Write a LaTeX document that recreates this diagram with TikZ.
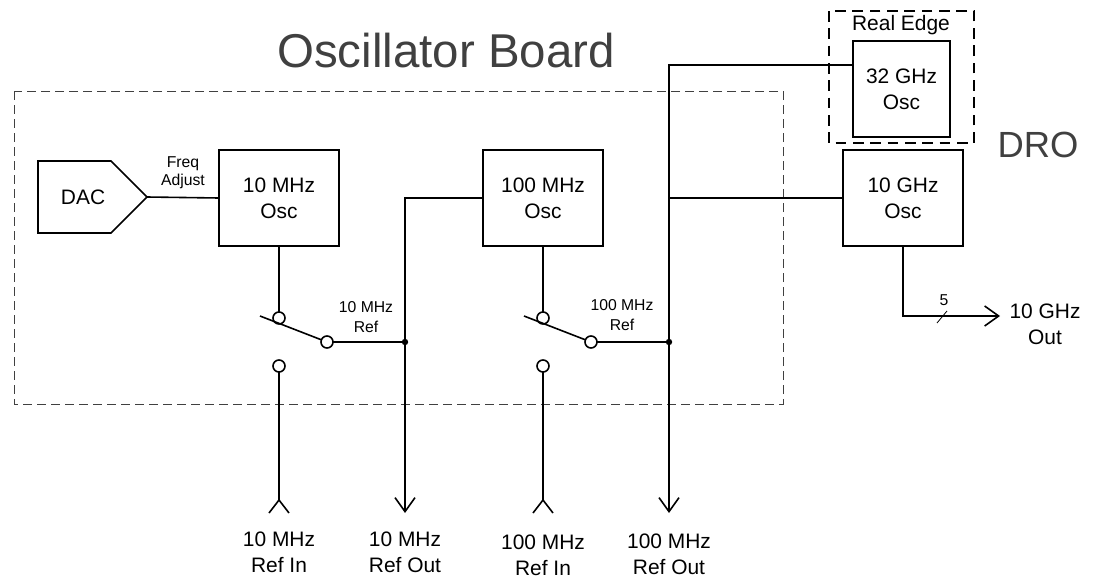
\documentclass[tikz,border=0pt]{standalone}
\usepackage{fontspec}
\setmainfont{Liberation Sans}
\usepackage{tikz}
\usetikzlibrary{ positioning, arrows.meta, shapes.symbols }
\usepackage{xcolor}
\definecolor{heading}{HTML}{404040}

\begin{document}
\begin{tikzpicture}[
  x=0.75pt, y=-0.75pt,
  node distance=0pt,
  line width=1.2pt,
  osc/.style={draw, align=center, minimum width=90pt, minimum height=72pt, inner sep=0pt, outer sep=0pt,
              font=\fontsize{15.7}{19.5}\selectfont},
  dac/.style={draw, signal, signal to=east, signal pointer angle=90, minimum width=81.75pt, minimum height=54pt,
              inner sep=0pt, outer sep=0pt, font=\fontsize{15.7}{19.5}\selectfont},
  port/.style={circle, draw, fill=white, minimum size=9pt, inner sep=0pt, outer sep=0pt},
  dot/.style={circle, fill, minimum size=4.8pt, inner sep=0pt, outer sep=0pt},
  lbl/.style={align=center, inner sep=0pt, font=\fontsize{15.7}{19.5}\selectfont},
  tiny/.style={align=center, inner sep=0pt, font=\fontsize{11.8}{15}\selectfont},
  big/.style={inner sep=0pt, text=heading, font=\fontsize{35.6}{40}\selectfont},
  ar/.style={-{Straight Barb[length=10.5pt,width=15pt,line width=1.2pt]}},
]
  \useasboundingbox (0,0) rectangle (1095,578);

  % boards
  \draw[heading, line width=0.7pt, dash pattern=on 7pt off 3.5pt] (14,91) rectangle (783,404);
  \draw[line width=1.2pt, dash pattern=on 8pt off 5pt] (829,11) rectangle (974,143);
  \node[big] (title) at (446,51) {Oscillator Board};
  \node[big, font=\fontsize{27.3}{32}\selectfont] (dro) at (1038,145) {DRO};
  \node[lbl] (real) at (901,25) {Real Edge};

  % blocks
  \node[dac] (dac1) at (74.5,197) {\hspace{12.8pt}DAC};
  \node[osc] (osc10) at (279,198) {10 MHz\\Osc};
  \node[osc] (osc100) at (543,198) {100 MHz\\Osc};
  \node[osc] (oscg) at (903,198) {10 GHz\\Osc};
  \node[osc, minimum width=72.75pt] (osc32) at (901.5,89) {32 GHz\\Osc};

  % switches
  \node[port] (sw1a) at (279,318) {};
  \node[port] (sw1b) at (327,342) {};
  \node[port] (sw1c) at (279,366) {};
  \node[port] (sw2a) at (543,318) {};
  \node[port] (sw2b) at (591,342) {};
  \node[port] (sw2c) at (543,366) {};
  \coordinate (lev1) at (260,316);
  \coordinate (lev2) at (524,316);

  % junctions and ends
  \node[dot] (j1) at (405,342) {};
  \node[dot] (j2) at (669,342) {};
  \coordinate (out1) at (405,513);
  \coordinate (out2) at (669,513);
  \coordinate (outg) at (1000,316);
  \coordinate (in1) at (279,500);
  \coordinate (in1l) at (269,513);
  \coordinate (in1r) at (289,513);
  \coordinate (in2) at (543,500);
  \coordinate (in2l) at (533,513);
  \coordinate (in2r) at (553,513);
  \coordinate (tick1) at (937,323);
  \coordinate (tick2) at (947,311);

  % labels
  \node[tiny] (freq) at (183,173) {Freq\\[-1.5pt]Adjust};
  \node[tiny] (ref1) at (366,317) {10 MHz\\Ref};
  \node[tiny] (ref2) at (622,315) {100 MHz\\Ref};
  \node[tiny] (five) at (944,300) {5};
  \node[lbl] (lin1) at (279,552) {10 MHz\\Ref In};
  \node[lbl] (lout1) at (405,552) {10 MHz\\Ref Out};
  \node[lbl] (lin2) at (543,555) {100 MHz\\Ref In};
  \node[lbl] (lout2) at (669,554) {100 MHz\\Ref Out};
  \node[lbl] (lg) at (1045,324) {10 GHz\\Out};

  % wires
  \draw (dac1.east) -- (osc10.west);
  \draw (osc10.south) -- (sw1a);
  \draw (lev1) -- (sw1b);
  \draw (sw1b) -- (j1);
  \draw (sw1c) -- (in1);
  \draw (in1l) -- (in1) -- (in1r);
  \draw[ar] (osc100.west) -| (out1);
  \draw (osc100.south) -- (sw2a);
  \draw (lev2) -- (sw2b);
  \draw (sw2b) -- (j2);
  \draw (sw2c) -- (in2);
  \draw (in2l) -- (in2) -- (in2r);
  \draw[ar] ([yshift=18pt]osc32.west) -| (out2);
  \draw (oscg.west) -- (oscg.west -| j2);
  \draw[ar] (oscg.south) |- (outg);
  \draw[line width=0.6pt] (tick1) -- (tick2);
\end{tikzpicture}
\end{document}
